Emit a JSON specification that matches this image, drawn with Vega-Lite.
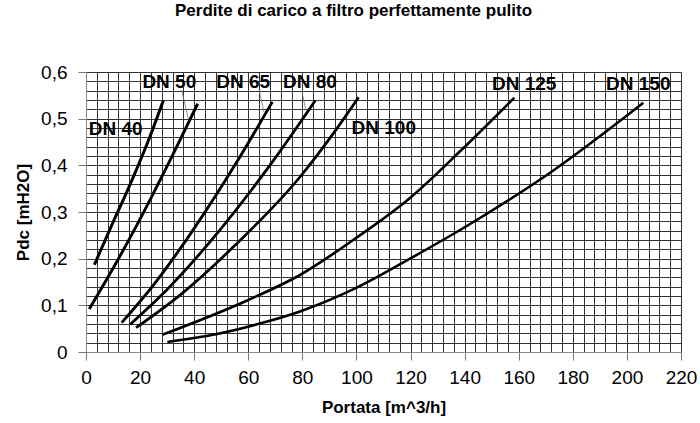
{
  "$schema": "https://vega.github.io/schema/vega-lite/v6.json",
  "width": 595,
  "height": 280,
  "autosize": "none",
  "padding": {"left": 86, "top": 72, "right": 19, "bottom": 71},
  "background": "white",
  "title": {"text": "Perdite di carico a filtro perfettamente pulito", "font": "Liberation Sans", "fontSize": 17, "fontWeight": "bold", "color": "black", "anchor": "middle", "dx": -30, "offset": 43},
  "config": {"view": {"stroke": null}, "font": "Liberation Sans"},
  "datasets": {
    "curves": [
      {"dn": "DN 40", "q": 3.1, "dp": 0.187},
      {"dn": "DN 40", "q": 9, "dp": 0.265},
      {"dn": "DN 40", "q": 16, "dp": 0.355},
      {"dn": "DN 40", "q": 23, "dp": 0.452},
      {"dn": "DN 40", "q": 28.6, "dp": 0.539},
      {"dn": "DN 50", "q": 1.2, "dp": 0.092},
      {"dn": "DN 50", "q": 8.9, "dp": 0.168},
      {"dn": "DN 50", "q": 19, "dp": 0.274},
      {"dn": "DN 50", "q": 31.7, "dp": 0.418},
      {"dn": "DN 50", "q": 41.3, "dp": 0.532},
      {"dn": "DN 65", "q": 13.2, "dp": 0.063},
      {"dn": "DN 65", "q": 25, "dp": 0.144},
      {"dn": "DN 65", "q": 40, "dp": 0.265},
      {"dn": "DN 65", "q": 55, "dp": 0.4},
      {"dn": "DN 65", "q": 68.9, "dp": 0.536},
      {"dn": "DN 80", "q": 16.3, "dp": 0.059},
      {"dn": "DN 80", "q": 30, "dp": 0.134},
      {"dn": "DN 80", "q": 50, "dp": 0.265},
      {"dn": "DN 80", "q": 70, "dp": 0.416},
      {"dn": "DN 80", "q": 84.8, "dp": 0.539},
      {"dn": "DN 100", "q": 18.5, "dp": 0.052},
      {"dn": "DN 100", "q": 35, "dp": 0.123},
      {"dn": "DN 100", "q": 55, "dp": 0.228},
      {"dn": "DN 100", "q": 79.1, "dp": 0.375},
      {"dn": "DN 100", "q": 91.4, "dp": 0.468},
      {"dn": "DN 100", "q": 100.8, "dp": 0.546},
      {"dn": "DN 125", "q": 28.2, "dp": 0.037},
      {"dn": "DN 125", "q": 59.4, "dp": 0.11},
      {"dn": "DN 125", "q": 79.1, "dp": 0.165},
      {"dn": "DN 125", "q": 98.8, "dp": 0.24},
      {"dn": "DN 125", "q": 119.8, "dp": 0.33},
      {"dn": "DN 125", "q": 138.3, "dp": 0.43},
      {"dn": "DN 125", "q": 158.4, "dp": 0.545},
      {"dn": "DN 150", "q": 30.1, "dp": 0.0215},
      {"dn": "DN 150", "q": 48, "dp": 0.038},
      {"dn": "DN 150", "q": 65.6, "dp": 0.063},
      {"dn": "DN 150", "q": 79.1, "dp": 0.087},
      {"dn": "DN 150", "q": 100.1, "dp": 0.138},
      {"dn": "DN 150", "q": 119.8, "dp": 0.2},
      {"dn": "DN 150", "q": 140.8, "dp": 0.27},
      {"dn": "DN 150", "q": 172.8, "dp": 0.389},
      {"dn": "DN 150", "q": 206.1, "dp": 0.534}
    ],
    "labels": [
      {"label": "DN 40", "q": 11, "dp": 0.478},
      {"label": "DN 50", "q": 30.8, "dp": 0.579},
      {"label": "DN 65", "q": 58.1, "dp": 0.579},
      {"label": "DN 80", "q": 82.8, "dp": 0.579},
      {"label": "DN 100", "q": 110.1, "dp": 0.479},
      {"label": "DN 125", "q": 162, "dp": 0.575},
      {"label": "DN 150", "q": 204.2, "dp": 0.575}
    ],
    "leaders": [
      {"q": 35.4, "dp": 0.561, "q2": 37.8, "dp2": 0.5},
      {"q": 64, "dp": 0.562, "q2": 65.8, "dp2": 0.514},
      {"q": 79.9, "dp": 0.556, "q2": 81.3, "dp2": 0.518}
    ]
  },
  "layer": [
    {
      "data": {"name": "curves"},
      "mark": {"type": "line", "interpolate": "monotone", "color": "black"},
      "encoding": {
        "x": {
          "field": "q", "type": "quantitative",
          "scale": {"domain": [0, 220], "nice": false, "zero": false},
          "axis": {
            "title": "Portata [m^3/h]",
            "titleFont": "Liberation Sans", "titleFontSize": 17, "titleFontWeight": "bold", "titleColor": "black", "titlePadding": 12,
            "values": [0,4,8,12,16,20,24,28,32,36,40,44,48,52,56,60,64,68,72,76,80,84,88,92,96,100,104,108,112,116,120,124,128,132,136,140,144,148,152,156,160,164,168,172,176,180,184,188,192,196,200,204,208,212,216,220],
            "tickCount": 200,
            "labelExpr": "datum.value % 20 === 0 ? datum.label : ''",
            "labelOverlap": false,
            "labelFont": "Liberation Sans", "labelFontSize": 19, "labelColor": "black", "labelPadding": 8,
            "labelFlush": false,
            "tickSize": 8,
            "tickColor": "#777",
            "tickOpacity": {"condition": {"test": "datum.value % 20 === 0", "value": 1}, "value": 0},
            "grid": true, "gridColor": "#333", "gridOpacity": 1, "gridWidth": 1,
            "domainColor": "#888"
          }
        },
        "y": {
          "field": "dp", "type": "quantitative",
          "scale": {"domain": [0, 0.6], "nice": false},
          "axis": {
            "title": "Pdc [mH2O]",
            "titleFont": "Liberation Sans", "titleFontSize": 17, "titleFontWeight": "bold", "titleColor": "black", "titlePadding": 8,
            "values": [0,0.02,0.04,0.06,0.08,0.1,0.12,0.14,0.16,0.18,0.2,0.22,0.24,0.26,0.28,0.3,0.32,0.34,0.36,0.38,0.4,0.42,0.44,0.46,0.48,0.5,0.52,0.54,0.56,0.58,0.6],
            "tickCount": 200,
            "labelExpr": "abs(datum.value*10 - round(datum.value*10)) < 0.001 ? (datum.value == 0 ? '0' : replace(format(datum.value, '.1f'), '.', ',')) : ''",
            "labelOverlap": false,
            "labelFont": "Liberation Sans", "labelFontSize": 19, "labelColor": "black", "labelPadding": 11,
            "labelFlush": false,
            "tickSize": 8,
            "tickColor": "#777",
            "tickOpacity": {"condition": {"test": "abs(datum.value*10 - round(datum.value*10)) < 0.001", "value": 1}, "value": 0},
            "grid": true, "gridColor": "#333", "gridOpacity": 1, "gridWidth": 1,
            "domainColor": "#888"
          }
        },
        "detail": {"field": "dn", "type": "nominal"},
        "strokeWidth": {
          "field": "dn", "type": "nominal",
          "scale": {"domain": ["DN 40", "DN 50", "DN 65", "DN 80", "DN 100", "DN 125", "DN 150"], "range": [3, 2.6, 2, 2, 2, 2, 2]},
          "legend": null
        }
      }
    },
    {
      "data": {"name": "leaders"},
      "mark": {"type": "rule", "color": "#777", "strokeWidth": 0.8},
      "encoding": {
        "x": {"field": "q", "type": "quantitative"},
        "y": {"field": "dp", "type": "quantitative"},
        "x2": {"field": "q2"},
        "y2": {"field": "dp2"}
      }
    },
    {
      "data": {"name": "labels"},
      "mark": {"type": "text", "font": "Liberation Sans", "fontSize": 19, "fontWeight": "bold", "color": "black", "align": "center", "baseline": "middle"},
      "encoding": {
        "x": {"field": "q", "type": "quantitative"},
        "y": {"field": "dp", "type": "quantitative"},
        "text": {"field": "label", "type": "nominal"}
      }
    }
  ]
}
